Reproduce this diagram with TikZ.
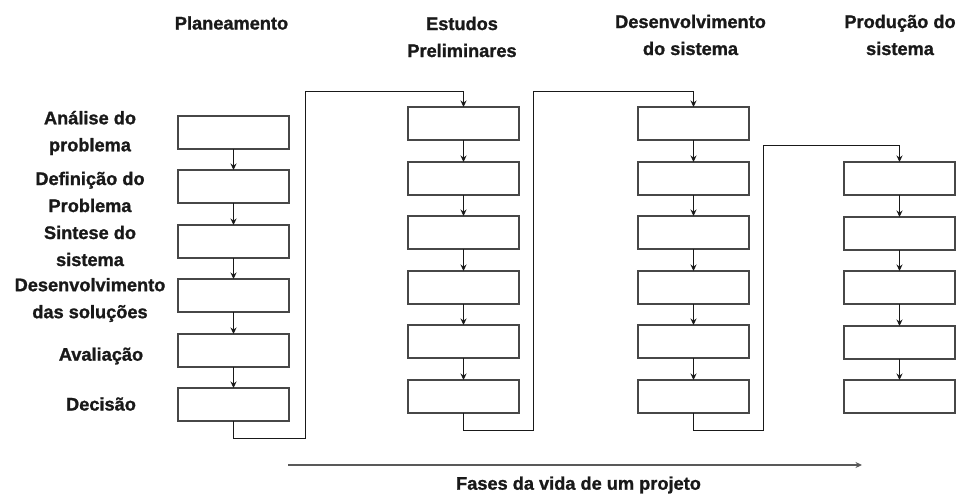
\documentclass[tikz,border=0pt]{standalone}
\usepackage{fontspec}
\setmainfont[BoldFeatures={FakeBold=1.2}]{Liberation Sans}
\usetikzlibrary{arrows.meta}
\tikzset{
  caixa/.style={draw=black!72,line width=2pt,minimum width=111pt,minimum height=33pt,inner sep=0pt,outer sep=0pt},
  seta/.style={-{Stealth[length=6.5pt,width=6pt]},line width=1pt,draw=black!90},
  rotulo/.style={font=\bfseries\fontsize{18.2}{27}\selectfont,align=center,text=black!90,inner sep=0pt}
}
\begin{document}
\begin{tikzpicture}[x=1pt,y=-1pt]
\useasboundingbox (0,0) rectangle (960,498);
\foreach \i in {1,...,6} \node[caixa] (p\i) at (233.5,{int(116.5+54.4*(\i-1))+16.5}) {};
\foreach \i in {1,...,6} \node[caixa] (e\i) at (463.5,{int(107.5+54.6*(\i-1))+16.5}) {};
\foreach \i in {1,...,6} \node[caixa] (d\i) at (693.5,{int(107.5+54.6*(\i-1))+16.5}) {};
\foreach \i in {1,...,5} \node[caixa] (s\i) at (899.5,{int(162.5+54.6*(\i-1))+16.5}) {};
\foreach \i [evaluate=\i as \j using int(\i+1)] in {1,...,5} {
  \draw[seta] (p\i) -- (p\j);
  \draw[seta] (e\i) -- (e\j);
  \draw[seta] (d\i) -- (d\j);
}
\foreach \i [evaluate=\i as \j using int(\i+1)] in {1,...,4} \draw[seta] (s\i) -- (s\j);
\draw[seta] (p6.south) |- (305.5,438.5) |- (e1.north |- 0,91.5) -- (e1.north);
\draw[seta] (e6.south) |- (533.5,430.5) |- (d1.north |- 0,91.5) -- (d1.north);
\draw[seta] (d6.south) |- (763.5,430.5) |- (s1.north |- 0,145.5) -- (s1.north);
\node[rotulo] (planeamento) at (231.5,23) {Planeamento};
\node[rotulo] (estudos) at (462,37) {Estudos\\Preliminares};
\node[rotulo] (desenv) at (690.5,35) {Desenvolvimento\\do sistema};
\node[rotulo] (producao) at (900,35) {Produção do\\sistema};
\node[rotulo] (analise) at (90,133) {Análise do\\problema};
\node[rotulo] (definicao) at (90,192) {Definição do\\Problema};
\node[rotulo] (sintese) at (90,246) {Sintese do\\sistema};
\node[rotulo] (solucoes) at (90,300) {Desenvolvimento\\das soluções};
\node[rotulo] (avaliacao) at (101,356) {Avaliação};
\node[rotulo] (decisao) at (101,404) {Decisão};
\coordinate (ini) at (288,465);
\coordinate (fim) at (862,465);
\draw[seta,line width=2pt,draw=black!65] (ini) -- (fim);
\node[rotulo] (fases) at (578.5,485) {Fases da vida de um projeto};
\end{tikzpicture}
\end{document}
